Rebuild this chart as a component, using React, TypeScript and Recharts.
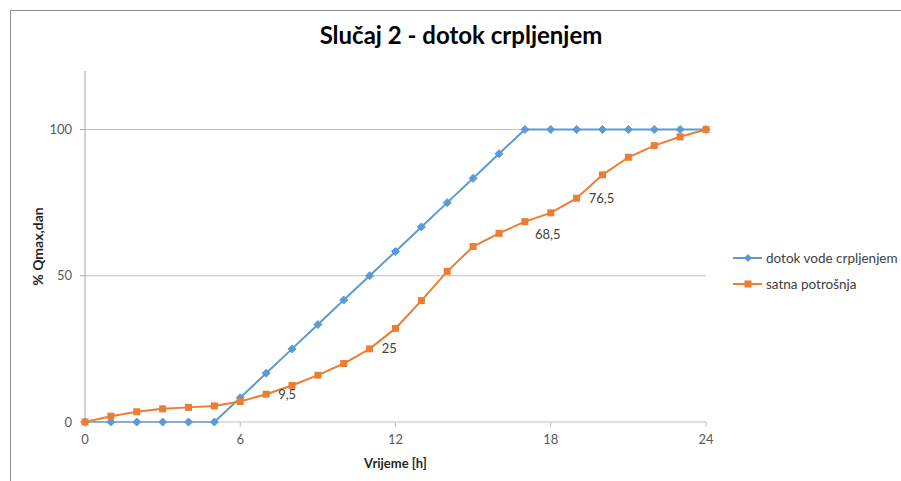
import { LineChart, Line, XAxis, YAxis, ReferenceLine, Legend } from 'recharts';

const hours = [0, 1, 2, 3, 4, 5, 6, 7, 8, 9, 10, 11, 12, 13, 14, 15, 16, 17, 18, 19, 20, 21, 22, 23, 24];
const dotokVode = [0, 0, 0, 0, 0, 0, 8.3, 16.7, 25, 33.3, 41.7, 50, 58.3, 66.7, 75, 83.3, 91.7, 100, 100, 100, 100, 100, 100, 100, 100];
const satnaPotrosnja = [0, 2, 3.5, 4.5, 5, 5.5, 7, 9.5, 12.5, 16, 20, 25, 32, 41.5, 51.5, 60, 64.5, 68.5, 71.5, 76.5, 84.5, 90.5, 94.5, 97.5, 100];
const labelledHours = [7, 11, 17, 19];
const xTicks = [0, 6, 12, 18, 24];
const yTicks = [0, 50, 100];

const BLUE = '#5B9BD5';
const ORANGE = '#ED7D31';
const FONT = 'Lato, "Open Sans", sans-serif';

const chartData = hours.map((h, i) => ({
  hour: h,
  dotok: dotokVode[i],
  potrosnja: satnaPotrosnja[i],
}));

// Excel style markers
const Diamond = (props: any) => {
  const { cx, cy, index } = props;
  if (cx == null || cy == null) return <g key={index} />;
  const r = 4;
  return (
    <polygon
      key={index}
      points={`${cx},${cy - r} ${cx + r},${cy} ${cx},${cy + r} ${cx - r},${cy}`}
      fill={BLUE}
      stroke={BLUE}
    />
  );
};

const Square = (props: any) => {
  const { cx, cy, index } = props;
  if (cx == null || cy == null) return <g key={index} />;
  const s = 7;
  return <rect key={index} x={cx - s / 2} y={cy - s / 2} width={s} height={s} fill={ORANGE} />;
};

const PointLabel = (props: any) => {
  const { x, y, value, index } = props;
  if (!labelledHours.includes(hours[index])) return <g key={index} />;
  // 68,5 sits below-right of its point, the rest to the right
  const below = hours[index] === 17;
  return (
    <text
      key={index}
      x={x + (below ? 10 : 12)}
      y={y + (below ? 13 : 0)}
      dy="0.35em"
      fontSize={13}
      fontFamily={FONT}
      fill="#404040"
    >
      {String(value).replace('.', ',')}
    </text>
  );
};

const YTitle = (props: any) => {
  const vb = props.viewBox || {};
  const cx = 37;
  const cy = (vb.y ?? 71) + (vb.height ?? 351) / 2;
  return (
    <text
      x={cx}
      y={cy}
      transform={`rotate(-90 ${cx} ${cy})`}
      textAnchor="middle"
      dominantBaseline="central"
      fontSize={14}
      fontWeight={700}
      fontFamily={FONT}
      fill="#262626"
    >
      % Qmax,dan
    </text>
  );
};

const LegendContent = () => (
  <div style={{ fontFamily: FONT, fontSize: 13.5, color: '#404040', whiteSpace: 'nowrap' }}>
    {[
      { name: 'dotok vode crpljenjem', color: BLUE, shape: 'diamond' },
      { name: 'satna potrošnja', color: ORANGE, shape: 'square' },
    ].map((item) => (
      <div key={item.name} style={{ display: 'flex', alignItems: 'center', height: 26 }}>
        <svg width={30} height={12} style={{ marginRight: 3, flexShrink: 0 }}>
          <line x1={0} y1={6} x2={29} y2={6} stroke={item.color} strokeWidth={2} />
          {item.shape === 'diamond' ? (
            <polygon points="15,2 19,6 15,10 11,6" fill={item.color} />
          ) : (
            <rect x={11.5} y={2.5} width={7} height={7} fill={item.color} />
          )}
        </svg>
        <span>{item.name}</span>
      </div>
    ))}
  </div>
);

export default function App() {
  return (
    <div style={{ position: 'absolute', left: 0, top: 0, width: 901, height: 481, background: '#fff' }}>
      <div
        style={{
          position: 'absolute',
          left: 10,
          top: 10,
          width: 900,
          height: 480,
          borderLeft: '1px solid #8c8c8c',
          borderTop: '1px solid #8c8c8c',
        }}
      />
      <div
        style={{
          position: 'absolute',
          left: 161,
          width: 600,
          top: 20,
          textAlign: 'center',
          fontFamily: FONT,
          fontWeight: 700,
          fontSize: 24,
          color: '#000',
        }}
      >
        Slučaj 2 - dotok crpljenjem
      </div>
      <div style={{ position: 'absolute', left: 0, top: 0 }}>
        <LineChart width={901} height={481} data={chartData} margin={{ top: 71, right: 195, bottom: 0, left: 0 }}>
          {yTicks
            .filter((t) => t > 0)
            .map((t) => (
              <ReferenceLine key={t} y={t} stroke="#bfbfbf" strokeWidth={1} />
            ))}
          <XAxis
            dataKey="hour"
            type="number"
            domain={[0, 24]}
            ticks={xTicks}
            height={59}
            tickSize={5}
            tickMargin={8}
            stroke="#bfbfbf"
            tick={{ fill: '#595959', fontSize: 13, fontFamily: FONT }}
            label={{
              value: 'Vrijeme [h]',
              position: 'insideBottom',
              offset: 13,
              style: { fill: '#262626', fontSize: 13, fontWeight: 700, fontFamily: FONT },
            }}
          />
          <YAxis
            type="number"
            domain={[0, 120]}
            ticks={yTicks}
            width={85}
            tickSize={5}
            tickMargin={8}
            stroke="#a6a6a6"
            tick={{ fill: '#595959', fontSize: 13, fontFamily: FONT }}
            label={{ content: YTitle }}
          />
          <Legend
            layout="vertical"
            align="center"
            verticalAlign="middle"
            wrapperStyle={{ left: 733, top: 245, width: 166 }}
            content={LegendContent}
          />
          <Line
            type="linear"
            dataKey="dotok"
            name="dotok vode crpljenjem"
            stroke={BLUE}
            strokeWidth={2}
            dot={Diamond}
            activeDot={false}
            isAnimationActive={false}
          />
          <Line
            type="linear"
            dataKey="potrosnja"
            name="satna potrošnja"
            stroke={ORANGE}
            strokeWidth={2}
            dot={Square}
            activeDot={false}
            label={PointLabel}
            isAnimationActive={false}
          />
        </LineChart>
      </div>
    </div>
  );
}
